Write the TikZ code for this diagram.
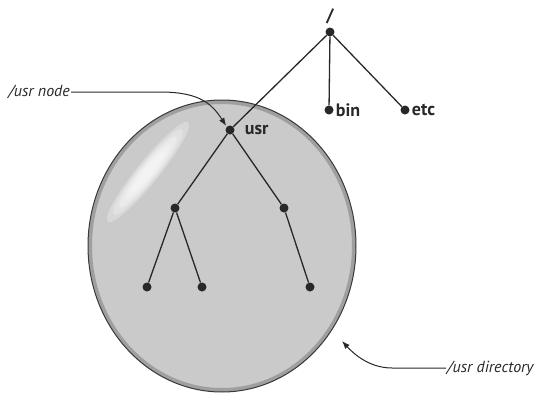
\documentclass[tikz,border=0pt]{standalone}
\usepackage{fontspec}
\setmainfont{PT Sans}
\definecolor{mInk}{RGB}{40,40,40}
\definecolor{mBubble}{RGB}{202,202,202}
\usetikzlibrary{arrows.meta,positioning,calc}

\begin{document}
\begin{tikzpicture}[x=1pt,y=-1pt,
    dot/.style={circle, fill=mInk, inner sep=0pt, minimum size=9pt},
    dirname/.style={font=\bfseries\fontsize{18}{18}\selectfont, text=mInk, inner sep=1pt},
    callout/.style={font=\itshape\fontsize{16}{16}\selectfont, text=mInk, inner sep=1pt},
    edge/.style={line width=1.3pt, mInk},
    pointer/.style={-{Latex[length=8pt,width=6pt]}, line width=1pt, mInk}]
    \useasboundingbox (0,0) rectangle (542,399);
    % The /usr directory bubble
    \fill[mBubble] (222,246) ellipse (134 and 146);
    \draw[gray!75, line width=4pt] (222,246) ellipse (132 and 144);
    \draw[gray!45!black, line width=1pt] (222,246) ellipse (134 and 146);
    % Highlight
    \begin{scope}[shift={(148,172)}, rotate=51]
      \foreach \r in {1,0.85,0.7,0.55,0.4} {
        \fill[white, opacity=0.28] (0,0) ellipse ({64*\r} and {11*\r});
      }
    \end{scope}
    % Tree nodes
    \node[dot] (root) at (330,32) {};
    \node[dot] (bin) at (329,110) {};
    \node[dot] (etc) at (405,110) {};
    \node[dot] (usr) at (230,130) {};
    \node[dot] (left) at (175,208) {};
    \node[dot] (right) at (284,208) {};
    \node[dot] (leafa) at (147,287) {};
    \node[dot] (leafb) at (202,287) {};
    \node[dot] (leafc) at (310,287) {};
    % Names
    \node[dirname, above=2pt of root] (rootname) {/};
    \node[dirname, right=1pt of bin] (binname) {bin};
    \node[dirname, right=1pt of etc] (etcname) {etc};
    \node[dirname, right=9pt of usr] (usrname) {usr};
    % Edges
    \foreach \a/\b in {root/usr,root/bin,root/etc,usr/left,usr/right,
                       left/leafa,left/leafb,right/leafc} {
      \draw[edge] (\a) -- (\b);
    }
    % Callouts
    \node[callout, anchor=east] (nodelabel) at (71,92) {/usr node};
    \coordinate (nodebend) at (160,92);
    \draw[pointer, shorten >=1pt] (nodelabel.east) -- (nodebend)
      .. controls (200,92) and (212,104) .. (usr.north west);
    \node[callout, anchor=west] (dirlabel) at (446,368) {/usr directory};
    \coordinate (dirbend) at (392,368);
    \coordinate (dirtip) at (342,341);
    \draw[pointer] (dirlabel.west) -- (dirbend)
      .. controls (368,368) and (352,352) .. (dirtip);
\end{tikzpicture}
\end{document}
